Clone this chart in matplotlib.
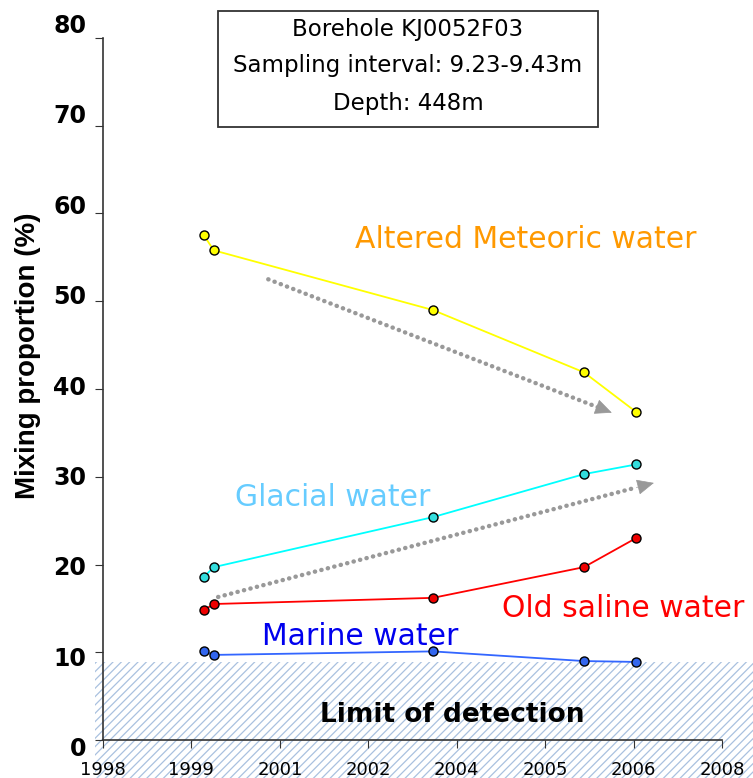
import numpy as np
import matplotlib.pyplot as plt
from matplotlib.patches import Rectangle

plt.rcParams["font.family"] = ["DejaVu Sans"]
plt.rcParams["hatch.linewidth"] = 0.9

# sampling dates (decimal years) and mixing proportions (%)
dates = [1999.63, 1999.79, 2003.33, 2005.77, 2006.61]
meteoric = [57.5, 55.8, 49.0, 41.9, 37.4]
glacial = [18.6, 19.7, 25.4, 30.3, 31.4]
saline = [14.8, 15.5, 16.2, 19.7, 23.0]
marine = [10.1, 9.7, 10.1, 9.0, 8.9]

detection_limit = 8.9
xtick_pos = np.linspace(1998, 2008, 8)
xtick_labels = ["1998", "1999", "2001", "2002", "2004", "2005", "2006", "2008"]
yticks = np.arange(0, 81, 10)

# trend arrows: (start, end)
arrow_down = ((2000.67, 52.5), (2006.22, 37.3))
arrow_up = ((1999.86, 16.3), (2006.9, 29.3))

fig = plt.figure(figsize=(7.53, 7.78), dpi=100)
ax = fig.add_axes([0.1368, 0.0488, 0.822, 0.9024])

series = [
    (meteoric, "#ffff00", "#ffff00"),
    (glacial, "#00ffff", "#33dddd"),
    (saline, "#ff0000", "#ee0000"),
    (marine, "#3366ff", "#3366ee"),
]
for vals, lc, mc in series:
    ax.plot(dates, vals, color=lc, lw=1.3, marker="o", ms=6.5,
            mfc=mc, mec="black", mew=1.0, zorder=3)

# limit of detection band
ax.add_patch(Rectangle((1997.87, -4.4), 10.7, detection_limit + 4.4,
                       facecolor="none", edgecolor="#a9c1df", lw=0,
                       hatch="////", clip_on=False, zorder=1))
ax.text(2003.65, 2.85, "Limit of detection", ha="center", va="center",
        fontsize=19, fontweight="bold")

# dotted trend arrows
for (x0, y0), (x1, y1) in (arrow_down, arrow_up):
    f = 0.96
    xm, ym = x0 + f * (x1 - x0), y0 + f * (y1 - y0)
    ax.plot([x0, xm], [y0, ym], color="#999999", lw=3.2,
            ls=(0, (0.05, 1.45)), dash_capstyle="round", zorder=2)
    ax.annotate("", xy=(x1, y1), xytext=(xm, ym),
                arrowprops=dict(arrowstyle="-|>,head_length=1.1,head_width=0.5",
                                color="#999999", lw=0.5, shrinkA=0, shrinkB=0),
                zorder=2)

lab_size = 21.5
ax.text(2004.83, 57.0, "Altered Meteoric water", ha="center", va="center",
        fontsize=lab_size, color="#ff9900")
ax.text(2001.71, 27.6, "Glacial water", ha="center", va="center",
        fontsize=lab_size, color="#66ccff")
ax.text(2006.4, 15.0, "Old saline water", ha="center", va="center",
        fontsize=lab_size, color="#ff0000")
ax.text(2002.15, 11.85, "Marine water", ha="center", va="center",
        fontsize=lab_size, color="#0000ee")

# header box
fig.patches.append(Rectangle((0.2895, 0.8368), 0.5046, 0.1491,
                             transform=fig.transFigure, fc="white",
                             ec="#333333", lw=1.3))
for txt, yb in zip(["Borehole KJ0052F03", "Sampling interval: 9.23-9.43m",
                    "Depth: 448m"], [0.9537, 0.9075, 0.8586]):
    fig.text(0.5418, yb, txt, ha="center", va="baseline", fontsize=16.5)

ax.set_xlim(1998, 2008)
ax.set_ylim(0, 80)
ax.set_xticks(xtick_pos)
ax.set_xticklabels(xtick_labels)
ax.set_yticks(yticks)
ax.set_yticklabels([])
# y tick labels sit slightly spread relative to the ticks
for v in yticks:
    ax.text(-0.027, -1.03 + v * 1.03, str(v), transform=ax.get_yaxis_transform(),
            ha="right", va="center", fontsize=17, fontweight="bold")
ax.tick_params(axis="x", labelsize=13, length=6, pad=9, direction="out",
               color="#333333")
ax.tick_params(axis="y", length=6, direction="out", color="#333333")
for s in ("top", "right"):
    ax.spines[s].set_visible(False)
for s in ("left", "bottom"):
    ax.spines[s].set_color("#333333")
    ax.spines[s].set_linewidth(1.2)

fig.text(28.5 / 753, 1 - 356 / 778, "Mixing proportion (%)", rotation=90,
         ha="center", va="center", fontsize=20, fontweight="bold",
         family=["Liberation Sans", "DejaVu Sans"])

fig.savefig("out.png", dpi=100)
